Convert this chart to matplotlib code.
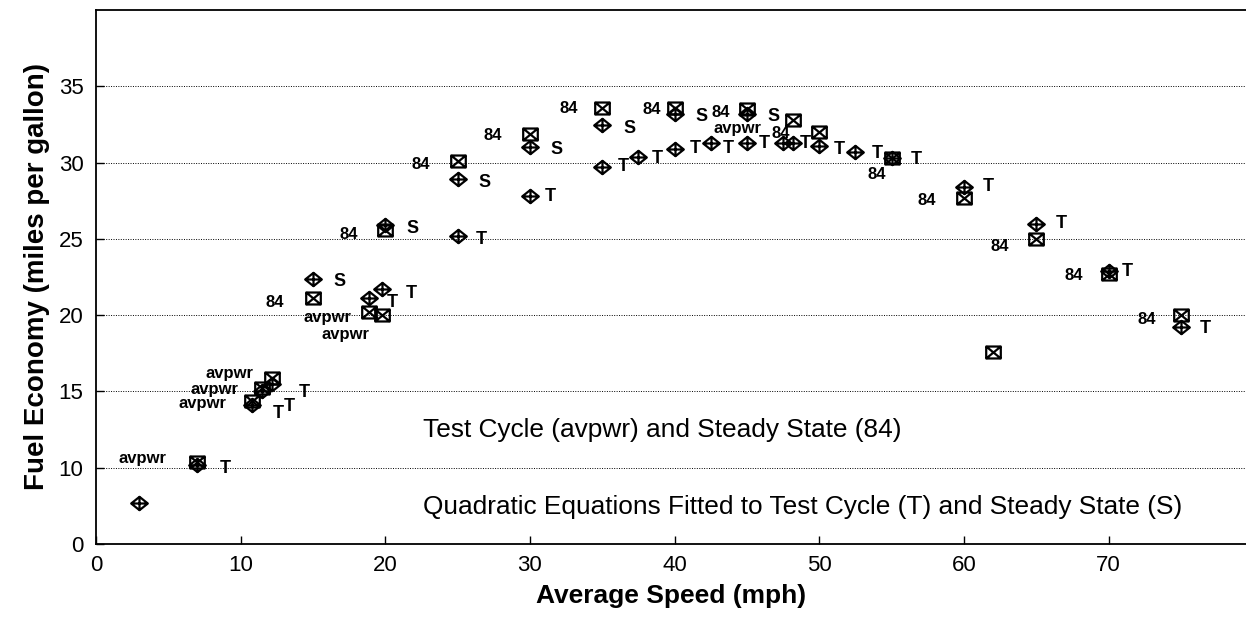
import matplotlib
matplotlib.use('Agg')
import matplotlib.pyplot as plt
from matplotlib.path import Path

plt.rcParams['font.family'] = ['Liberation Sans', 'DejaVu Sans']

# ---------------- data ----------------
# Steady state measurements (label "84")
ss_speed = [15, 20, 25, 30, 35, 40, 45, 50, 55, 60, 65, 70, 75]
ss_mpg = [21.15, 25.6, 30.1, 31.9, 33.6, 33.55, 33.5, 32.0, 30.3, 27.65, 25.0, 22.7, 20.0]

# Test cycle measurements (label "avpwr")
tc_speed = [7.0, 10.8, 11.5, 12.2, 18.9, 19.8, 48.2, 62.0]
tc_mpg = [10.4, 14.4, 15.2, 15.9, 20.2, 20.0, 32.8, 17.6]
tc_labels = ["avpwr", "avpwr", "avpwr", "avpwr", "avpwr", "avpwr", "avpwr", ""]

# Quadratic fit to steady state (S)
s_speed = [15, 20, 25, 30, 35, 40, 45]
s_mpg = [22.4, 25.9, 28.9, 31.05, 32.45, 33.2, 33.2]

# Quadratic fit to test cycle (T)
t_speed = [3, 7, 10.8, 11.5, 12.2, 18.9, 19.8, 25, 30, 35, 37.5, 40, 42.5, 45,
           47.5, 48.2, 50, 52.5, 55, 60, 65, 70, 75]
t_mpg = [7.7, 10.2, 14.1, 15.0, 15.5, 21.15, 21.7, 25.2, 27.8, 29.7, 30.35, 30.9,
         31.25, 31.3, 31.25, 31.25, 31.1, 30.7, 30.3, 28.4, 26.0, 22.9, 19.2]
t_labels = ["", "T", "T", "T", "T", "T", "T", "T", "T", "T", "T", "T", "T", "T",
            "T", "", "T", "T", "T", "T", "T", "T", "T"]

x_ticks = [0, 10, 20, 30, 40, 50, 60, 70]
y_ticks = [5, 10, 15, 20, 25, 30, 35]
y_tick_labels = ["0", "10", "15", "20", "25", "30", "35"]

# label offsets in pixels (dx right, dy down)
ss_off = [(-38, 5), (-37, 5), (-37, 3), (-37, 2), (-34, 1), (-23, 1), (-26, 3),
          (-39, 1), (-15, 17), (-37, 2), (-37, 8), (-35, 2), (-34, 4)]
tc_off = [(-55, -3), (-50, 3), (-48, 1), (-43, -4), (-42, 5), (-37, 19), (-56, 9), (0, 0)]
t_off = [(0, 0), (28, 4), (26, 8), (27, 15), (32, 9), (23, 5), (29, 4), (24, 4), (20, 0),
         (21, -1), (19, 1), (21, 0), (18, 5), (17, 1), (22, 0), (0, 0), (20, 4), (22, 2),
         (25, 2), (24, 0), (25, 0), (19, 1), (24, 1)]
S_OFF = (27, 3)

# ---------------- markers ----------------
M, L, C = Path.MOVETO, Path.LINETO, Path.CLOSEPOLY
sq_x = Path([(-1, -0.82), (1, -0.82), (1, 0.82), (-1, 0.82), (-1, -0.82),
             (-1, -0.82), (1, 0.82), (-1, 0.82), (1, -0.82)],
            [M, L, L, L, C, M, L, M, L])
dia_plus = Path([(-1, 0), (0, 0.8), (1, 0), (0, -0.8), (-1, 0),
                 (-1, 0), (1, 0), (0, -0.8), (0, 0.8)],
                [M, L, L, L, C, M, L, M, L])

fig = plt.figure(figsize=(12.46, 6.17), dpi=100)
ax = fig.add_axes([96 / 1246, 73 / 617, 1150 / 1246, 534 / 617])
ax.set_xlim(0, 79.5)
ax.set_ylim(5, 40)

mk = dict(linestyle='none', markerfacecolor='none', markeredgecolor='black',
          markeredgewidth=1.6)
ax.plot(ss_speed, ss_mpg, marker=sq_x, markersize=10.5, **mk)
ax.plot(tc_speed, tc_mpg, marker=sq_x, markersize=10.5, **mk)
ax.plot(s_speed, s_mpg, marker=dia_plus, markersize=12, **mk)
ax.plot(t_speed, t_mpg, marker=dia_plus, markersize=12, **mk)

PT = 0.72  # points per pixel at 100 dpi
lab = dict(ha='center', va='center', textcoords='offset points', color='black',
           fontweight='bold')
for x, y, (dx, dy) in zip(ss_speed, ss_mpg, ss_off):
    ax.annotate("84", (x, y), xytext=(dx * PT, -dy * PT), fontsize=12, **lab)
for x, y, t, (dx, dy) in zip(tc_speed, tc_mpg, tc_labels, tc_off):
    if t:
        ax.annotate(t, (x, y), xytext=(dx * PT, -dy * PT), fontsize=12, **lab)
for x, y in zip(s_speed, s_mpg):
    ax.annotate("S", (x, y), xytext=(S_OFF[0] * PT, -S_OFF[1] * PT), fontsize=13, **lab)
for x, y, t, (dx, dy) in zip(t_speed, t_mpg, t_labels, t_off):
    if t:
        ax.annotate(t, (x, y), xytext=(dx * PT, -dy * PT), fontsize=13, **lab)

ax.text(22.6, 12.5, "Test Cycle (avpwr) and Steady State (84)", fontsize=18.9,
        ha='left', va='center')
ax.text(22.6, 7.4, "Quadratic Equations Fitted to Test Cycle (T) and Steady State (S)",
        fontsize=18.9, ha='left', va='center')

ax.set_xticks(x_ticks)
ax.set_yticks(y_ticks)
ax.set_yticklabels(y_tick_labels)
ax.tick_params(axis='both', direction='in', length=6, width=1, labelsize=16)
ax.tick_params(axis='x', pad=8)
ax.tick_params(axis='y', pad=9)
ax.yaxis.grid(True, linestyle=(0, (1, 1.5)), color='black', linewidth=0.7)
ax.set_axisbelow(True)
for side in ['left', 'bottom', 'top']:
    ax.spines[side].set_linewidth(1.3)
ax.spines['right'].set_visible(False)

ax.set_xlabel("Average Speed (mph)", fontsize=19, fontweight='bold', labelpad=6)
ax.set_ylabel("Fuel Economy (miles per gallon)", fontsize=20, fontweight='bold', labelpad=6)

fig.savefig("out.png", dpi=100)
